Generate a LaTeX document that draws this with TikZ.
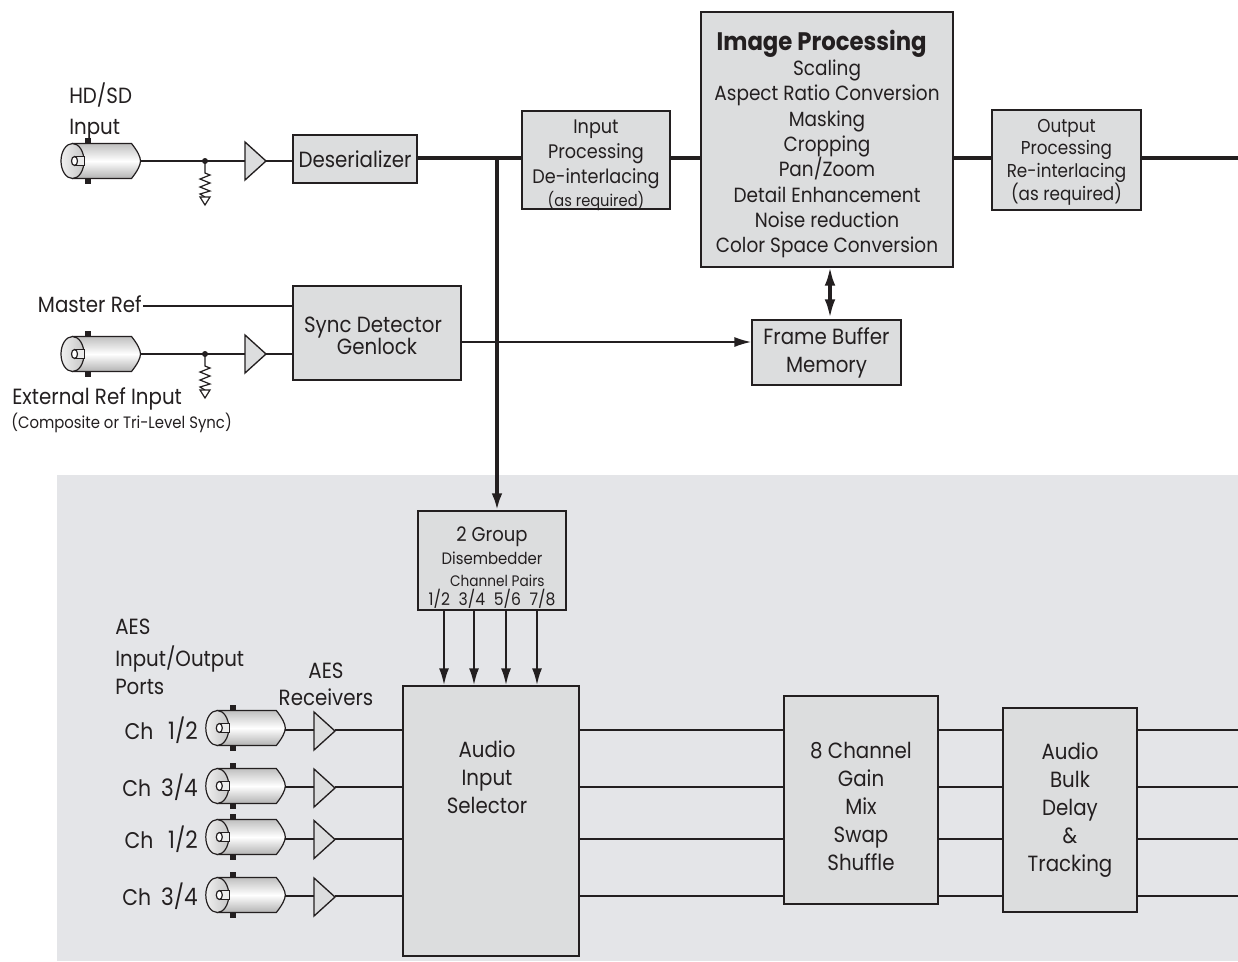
\documentclass[tikz,border=0pt]{standalone}
\usepackage{fontspec}
\setmainfont[FakeStretch=0.9]{Poppins}
\usetikzlibrary{arrows.meta}
\newdimen\px \px=0.75pt
\newcommand{\fs}[2]{\fontsize{#1}{#2}\selectfont}
\newcommand{\chd}[2]{{\fs{17}{21}Ch}\hspace{#1}{\fs{18}{21}#2}}
\definecolor{ink}{HTML}{231F20}
\definecolor{panelc}{HTML}{E4E5E8}
\definecolor{boxc}{HTML}{DCDDDE}
\tikzset{
  x=0.75pt,y=-0.75pt,
  boxn/.style={draw=ink,fill=boxc,line width=1.4pt,inner sep=0pt,align=center,text=ink,font=\fs{16.5}{21}},
  lastbase/.style={text height=#1,text depth=0pt},
  lbl/.style={inner sep=0pt,align=center,text=ink,font=\fs{16.5}{21}},
  wire/.style={draw=ink,line width=1.1pt},
  bus/.style={draw=ink,line width=2.4pt},
  arr/.style={draw=ink,line width=1.5pt,-{Latex[length=12.5pt,width=7.5pt]}},
  bnc/.pic={
    \fill[ink] (12.5,-23) rectangle (18.5,23);
    \path[draw=ink,line width=0.9pt,top color=gray!50,bottom color=gray!60,middle color=white]
      (0,-17.5) -- (59,-17.5) .. controls (65,-10) and (68,-4) .. (68,0)
      .. controls (68,4) and (65,10) .. (59,17.5) -- (0,17.5) -- cycle;
    \path[draw=ink,line width=0.9pt,left color=gray!12,right color=gray!45] (0,0) ellipse [x radius=11.5,y radius=17.5];
    \path[draw=ink,line width=0.8pt,fill=gray!15] (2,-4.5) rectangle (12,4.5);
    \path[draw=ink,line width=0.9pt,fill=white] (2,0) ellipse [x radius=3,y radius=4.5];
    \coordinate (-tip) at (68,0);
  },
  amp/.pic={
    \path[draw=ink,line width=1pt,fill=boxc,line join=miter] (0,-19) -- (21,0) -- (0,19) -- cycle;
    \coordinate (-in) at (0,0);
    \coordinate (-out) at (21,0);
  },
  term/.pic={
    \draw[ink,line width=0.9pt] (0,0) -- (0,12) -- (5,14) -- (-5,18) -- (5,22) -- (-5,26) -- (5,30) -- (-5,33) -- (0,36);
    \draw[ink,line width=0.9pt,fill=white] (-5,36) -- (5,36) -- (0,44) -- cycle;
    \fill[ink] (0,0) circle (3);
  }
}
\begin{document}
\begin{tikzpicture}
\useasboundingbox (0,0) rectangle (1238,961);
\fill[white] (0,0) rectangle (1238,961);
\fill[panelc] (57,475) rectangle (1238,961);

\coordinate (busE) at (1238,158);
\coordinate (busT) at (497,158);
\coordinate (mrefE) at (143,306);

\node[boxn,minimum width=124\px,minimum height=48\px] (des) at (355,159) {Deserializer};
\node[boxn,minimum width=148\px,minimum height=98\px,font=\fs{14.7}{18.8},lastbase=69pt] (inp) at (596,160) {Input\\Processing\\De-interlacing\\[-2pt]{\fs{12.2}{14}(as required)}};
\node[boxn,minimum width=252\px,minimum height=255\px,font=\fs{15.4}{19},lastbase=170pt] (img) at (827,139.5) {{\fs{19}{19}\bfseries Image Processing\hspace*{8pt}}\\Scaling\\Aspect Ratio Conversion\\Masking\\Cropping\\Pan/Zoom\\Detail Enhancement\\Noise reduction\\Color Space Conversion};
\node[boxn,minimum width=149\px,minimum height=100\px,font=\fs{14}{17},lastbase=60pt] (outp) at (1066.5,160) {Output\\Processing\\Re-interlacing\\(as required)};
\node[boxn,minimum width=168\px,minimum height=94\px,lastbase=31.5pt] (sync) at (377,333) {Sync Detector\hspace*{6pt}\\[-4.5pt]Genlock};
\node[boxn,minimum width=149\px,minimum height=65\px] (fb) at (826.5,352.5) {Frame Buffer\\Memory};
\node[boxn,minimum width=148\px,minimum height=99\px,lastbase=66.8pt] (dis) at (492,560.5) {{\fs{15}{16}2 Group}\\[-4pt]{\fs{12.4}{15}Disembedder}\\[-4.5pt]{\fs{11.4}{13}\hspace*{8pt}Channel Pairs}\\[-7pt]{\fs{13}{13}1/2\hspace{6.5pt}3/4\hspace{6.5pt}5/6\hspace{6.5pt}7/8}};
\node[boxn,minimum width=176\px,minimum height=270\px,anchor=north west] (sel) at (402,685) {};
\node[lbl] (selT) at (487,777) {Audio\\Input\\Selector};
\node[boxn,minimum width=154\px,minimum height=208\px,lastbase=105pt] (gain) at (861,800) {8 Channel\\Gain\\Mix\\Swap\\Shuffle};
\node[boxn,minimum width=134\px,minimum height=204\px] (bulk) at (1070,810) {Audio\\Bulk\\Delay\\\&\\Tracking};

\node[lbl,align=left,anchor=north west] (l1) at (69,83) {HD/SD\\[2pt]Input};
\node[lbl,anchor=east] (l2) at (142,304) {Master Ref};
\node[lbl,anchor=west] (l3) at (12,399) {External Ref Input};
\node[lbl,anchor=west,font=\fs{12.4}{14}] (l4) at (11,423) {(Composite or Tri-Level Sync)};
\node[lbl,align=left,anchor=north west] (l5) at (115,619) {AES\\[3pt]Input/Output\\[0pt]Ports};
\node[lbl] (l6) at (326,684) {AES\\[-1pt]Receivers};
\node[lbl,anchor=east] (c1) at (198,730) {\chd{11pt}{1/2}};
\node[lbl,anchor=east] (c2) at (198,787) {\chd{7.5pt}{3/4}};
\node[lbl,anchor=east] (c3) at (198,839) {\chd{11pt}{1/2}};
\node[lbl,anchor=east] (c4) at (198,896) {\chd{7.5pt}{3/4}};

\pic (bncA) at (72.5,161) {bnc};
\pic (ampA) at (245,161) {amp};
\coordinate (dA) at (205,161);
\coordinate (dIn) at (293,161);
\draw[wire] (bncA-tip) -- (ampA-in);
\draw[wire] (ampA-out) -- (dIn);
\pic at (dA) {term};

\draw[bus] (des.east |- busT) -- (inp.west |- busT);
\draw[bus] (inp.east |- busT) -- (img.west |- busT);
\draw[bus] (img.east |- busT) -- (outp.west |- busT);
\draw[bus] (outp.east |- busT) -- (busE);
\draw[draw=ink,line width=2.4pt,-{Latex[length=12.5pt,width=8pt]}] (busT) -- (dis.north -| busT);

\coordinate (imgB) at (830,267);
\coordinate (fbT) at (830,318);
\draw[draw=ink,line width=2.4pt,{Latex[length=14pt,width=8pt]}-{Latex[length=14pt,width=8pt]}] (imgB) -- (fbT);

\pic (bncB) at (72.5,354) {bnc};
\pic (ampB) at (245,354) {amp};
\coordinate (dB) at (205,354);
\coordinate (sIn) at (293,354);
\draw[wire] (bncB-tip) -- (ampB-in);
\draw[wire] (ampB-out) -- (sIn);
\pic at (dB) {term};
\draw[wire] (mrefE) -- (sync.west |- mrefE);
\coordinate (sOut) at (461,342);
\draw[draw=ink,line width=1.1pt,-{Latex[length=12.5pt,width=7.5pt]}] (sOut) -- (fb.west |- sOut);

\foreach \n/\x in {p/444,q/474,r/506,s/537}{
  \coordinate (\n T) at (\x,610);
  \draw[arr] (\n T) -- (\n T |- sel.north);
}

\foreach \n/\cy/\ly/\ay in {a/728/730/731,b/786/787/788,c/837/839/839.5,d/895/896/897}{
  \pic (bnc\n) at (217.3,\cy) {bnc};
  \pic (amp\n) at (314,\ay) {amp};
  \coordinate (L\n) at (285.3,\ly);
  \draw[wire] (L\n) -- (L\n -| amp\n-in);
  \draw[wire] (amp\n-out |- L\n) -- (L\n -| sel.west);
  \draw[wire] (L\n -| sel.east) -- (L\n -| gain.west);
  \draw[wire] (L\n -| gain.east) -- (L\n -| bulk.west);
  \coordinate (R\n) at (1238,\ly);
  \draw[wire] (L\n -| bulk.east) -- (R\n);
}
\end{tikzpicture}
\end{document}
